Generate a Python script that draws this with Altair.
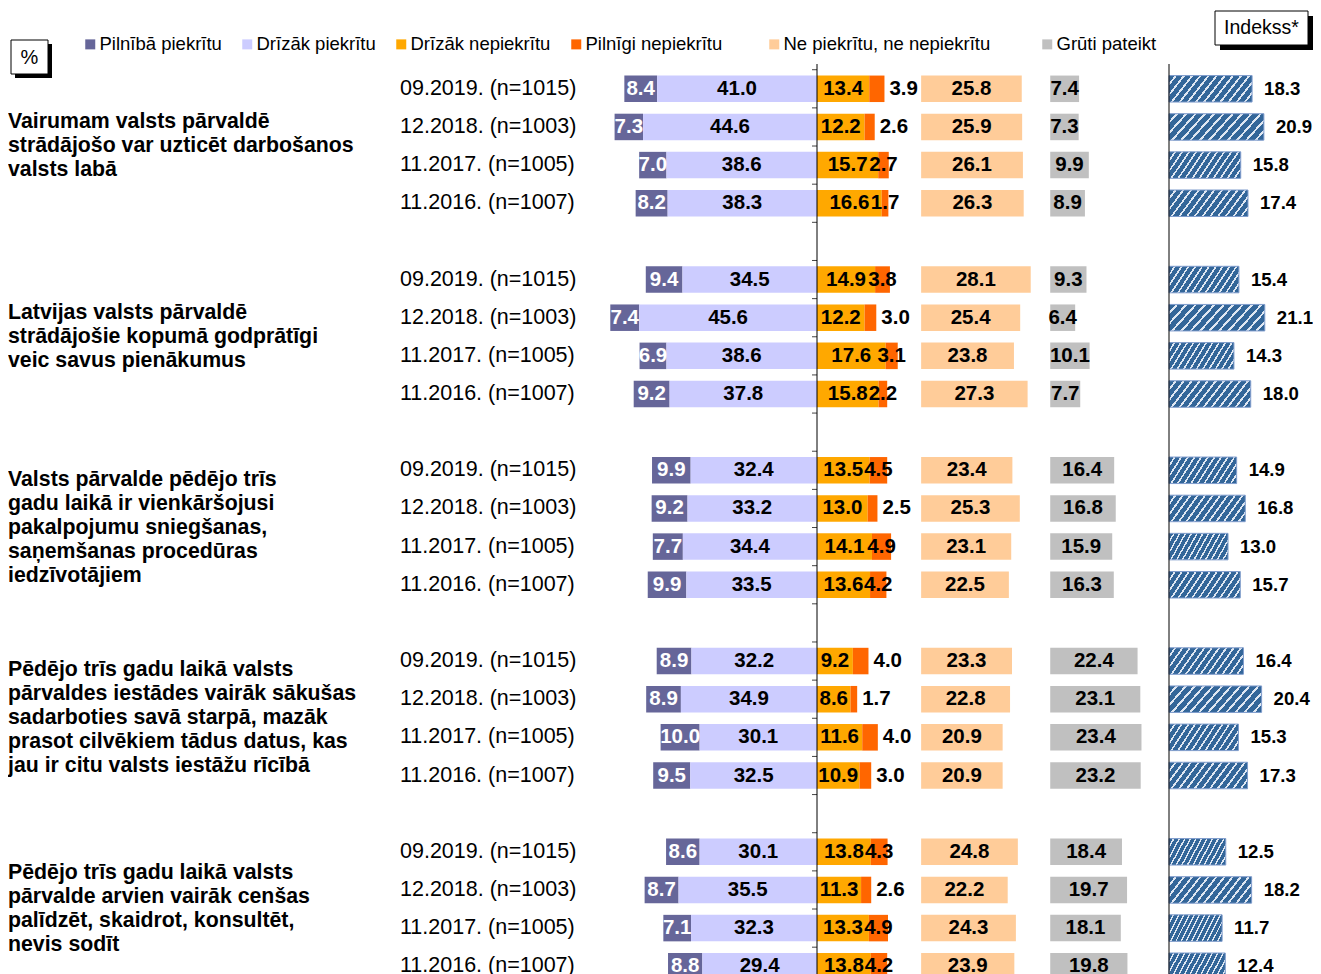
import altair as alt
import pandas as pd
import numpy as np

FONT = "Liberation Sans"

# ---------------- data ----------------
WAVES = ["09.2019. (n=1015)", "12.2018. (n=1003)", "11.2017. (n=1005)", "11.2016. (n=1007)"]

STATEMENTS = [
    ["Vairumam valsts pārvaldē", "strādājošo var uzticēt darbošanos", "valsts labā"],
    ["Latvijas valsts pārvaldē", "strādājošie kopumā godprātīgi", "veic savus pienākumus"],
    ["Valsts pārvalde pēdējo trīs", "gadu laikā ir vienkāršojusi", "pakalpojumu sniegšanas,",
     "saņemšanas procedūras", "iedzīvotājiem"],
    ["Pēdējo trīs gadu laikā valsts", "pārvaldes iestādes vairāk sākušas", "sadarboties savā starpā, mazāk",
     "prasot cilvēkiem tādus datus, kas", "jau ir citu valsts iestāžu rīcībā"],
    ["Pēdējo trīs gadu laikā valsts", "pārvalde arvien vairāk cenšas", "palīdzēt, skaidrot, konsultēt,",
     "nevis sodīt"],
]

SERIES = ["Pilnībā piekrītu", "Drīzāk piekrītu", "Drīzāk nepiekrītu", "Pilnīgi nepiekrītu",
          "Ne piekrītu, ne nepiekrītu", "Grūti pateikt"]
COLORS = ["#666699", "#ccccff", "#ffa800", "#ff6600", "#ffcc99", "#c0c0c0"]

FULLY_AGREE = [[8.4, 7.3, 7.0, 8.2], [9.4, 7.4, 6.9, 9.2], [9.9, 9.2, 7.7, 9.9],
               [8.9, 8.9, 10.0, 9.5], [8.6, 8.7, 7.1, 8.8]]
RATHER_AGREE = [[41.0, 44.6, 38.6, 38.3], [34.5, 45.6, 38.6, 37.8], [32.4, 33.2, 34.4, 33.5],
                [32.2, 34.9, 30.1, 32.5], [30.1, 35.5, 32.3, 29.4]]
RATHER_DISAGREE = [[13.4, 12.2, 15.7, 16.6], [14.9, 12.2, 17.6, 15.8], [13.5, 13.0, 14.1, 13.6],
                   [9.2, 8.6, 11.6, 10.9], [13.8, 11.3, 13.3, 13.8]]
FULLY_DISAGREE = [[3.9, 2.6, 2.7, 1.7], [3.8, 3.0, 3.1, 2.2], [4.5, 2.5, 4.9, 4.2],
                  [4.0, 1.7, 4.0, 3.0], [4.3, 2.6, 4.9, 4.2]]
NEUTRAL = [[25.8, 25.9, 26.1, 26.3], [28.1, 25.4, 23.8, 27.3], [23.4, 25.3, 23.1, 22.5],
           [23.3, 22.8, 20.9, 20.9], [24.8, 22.2, 24.3, 23.9]]
HARD_TO_SAY = [[7.4, 7.3, 9.9, 8.9], [9.3, 6.4, 10.1, 7.7], [16.4, 16.8, 15.9, 16.3],
               [22.4, 23.1, 23.4, 23.2], [18.4, 19.7, 18.1, 19.8]]
INDEX = [[18.3, 20.9, 15.8, 17.4], [15.4, 21.1, 14.3, 18.0], [14.9, 16.8, 13.0, 15.7],
         [16.4, 20.4, 15.3, 17.3], [12.5, 18.2, 11.7, 12.4]]

# ---------------- layout ----------------
W, H = 1305, 1000
PX = 3.9            # px per percentage point (main block)
CENTER_X = 809      # position of the 0 line
IPX = 4.54          # px per index point
ICENTER = 1161      # position of index axis
Y0, STEP = 80.8, 38.15
BAR_H = 26.5
LINE_H = 24
ROWS_PER_GROUP = 5
NEUTRAL_START = 26.7
DK_START = 59.8
OUTSIDE_LIMIT = 17.5

XMIN, XMAX = -CENTER_X / PX, (W - CENTER_X) / PX
IMIN, IMAX = -ICENTER / IPX, (W - ICENTER) / IPX
RMIN, RMAX = -Y0 / STEP, (H - Y0) / STEP
HALF = BAR_H / 2 / STEP
LINE_TOP = -0.65
LINE_BOT = RMAX

XS = alt.Scale(domain=[XMIN, XMAX], nice=False, zero=False)
XI = alt.Scale(domain=[IMIN, IMAX], nice=False, zero=False)
YS = alt.Scale(domain=[RMIN, RMAX], nice=False, zero=False, reverse=True)

# ---------------- tables ----------------
segs, rows, idx = [], [], []
for g in range(len(STATEMENTS)):
    for i, wave in enumerate(WAVES):
        r = g * ROWS_PER_GROUP + i
        a1, a2 = FULLY_AGREE[g][i], RATHER_AGREE[g][i]
        d1, d2 = RATHER_DISAGREE[g][i], FULLY_DISAGREE[g][i]
        n, h = NEUTRAL[g][i], HARD_TO_SAY[g][i]
        parts = [
            (SERIES[0], -(a1 + a2), -a2, a1),
            (SERIES[1], -a2, 0.0, a2),
            (SERIES[2], 0.0, d1, d1),
            (SERIES[3], d1, d1 + d2, d2),
            (SERIES[4], NEUTRAL_START, NEUTRAL_START + n, n),
            (SERIES[5], DK_START, DK_START + h, h),
        ]
        for s, x0, x1, v in parts:
            segs.append({"series": s, "x0": x0, "x1": x1, "mid": (x0 + x1) / 2, "r": r,
                         "label": f"{v:.1f}"})
        rows.append({"r": r, "wave": wave})
        idx.append({"r": r, "idx": INDEX[g][i], "zero": 0.0, "label": f"{INDEX[g][i]:.1f}"})

seg_df = pd.DataFrame(segs)
row_df = pd.DataFrame(rows)
idx_df = pd.DataFrame(idx)
grp_df = pd.DataFrame({
    "r": [g * ROWS_PER_GROUP + 1.5 for g in range(len(STATEMENTS))],
    "n": [len(s) for s in STATEMENTS],
    "text": ["\n".join(s) for s in STATEMENTS],
})
tick_df = pd.DataFrame({"b": np.arange(-0.5, RMAX, 1.0)})
tick_df["x0"] = -5 / PX
tick_df["x1"] = 0.0
line_df = pd.DataFrame({"x": [0.0], "y1": [LINE_TOP], "y2": [LINE_BOT]})

# ---------------- legends ----------------
def make_legend(x, pad):
    return alt.Legend(
        orient="none", legendX=x, legendY=27, direction="horizontal", columns=4,
        title=None, symbolType="square", symbolSize=100, symbolStrokeWidth=0,
        labelFont=FONT, labelFontSize=18.5, labelColor="black", labelOffset=0,
        columnPadding=pad, labelLimit=500, padding=0,
    )

# ---------------- main block ----------------
base = alt.Chart(seg_df).transform_calculate(
    yt=f"datum.r - {HALF}", yb=f"datum.r + {HALF}"
)
AGREE_SIDE = SERIES[:4]
OTHER_SIDE = SERIES[4:]

bars_a = base.transform_filter(alt.FieldOneOfPredicate(field="series", oneOf=AGREE_SIDE)).mark_bar().encode(
    x=alt.X("x0:Q", scale=XS, axis=None),
    x2="x1:Q",
    y=alt.Y("yt:Q", scale=YS, axis=None),
    y2="yb:Q",
    color=alt.Color("series:N", scale=alt.Scale(domain=AGREE_SIDE, range=COLORS[:4]),
                    legend=make_legend(73, 16)),
)
bars_b = base.transform_filter(alt.FieldOneOfPredicate(field="series", oneOf=OTHER_SIDE)).mark_bar().encode(
    x=alt.X("x0:Q", scale=XS, axis=None),
    x2="x1:Q",
    y=alt.Y("yt:Q", scale=YS, axis=None),
    y2="yb:Q",
    fill=alt.Fill("series:N", scale=alt.Scale(domain=OTHER_SIDE, range=COLORS[4:]),
                  legend=make_legend(757, 47)),
)

txt_color = alt.when(alt.datum.series == SERIES[0]).then(alt.value("white")).otherwise(alt.value("black"))

labels_center = alt.Chart(seg_df).transform_filter(
    f"datum.series != '{SERIES[3]}' || datum.x1 >= {OUTSIDE_LIMIT}"
).mark_text(font=FONT, fontSize=20.5, fontWeight="bold", baseline="middle", align="center").encode(
    x=alt.X("mid:Q", scale=XS, axis=None),
    y=alt.Y("r:Q", scale=YS, axis=None),
    text="label:N",
    color=txt_color,
)

labels_outside = alt.Chart(seg_df).transform_filter(
    f"datum.series == '{SERIES[3]}' && datum.x1 < {OUTSIDE_LIMIT}"
).mark_text(font=FONT, fontSize=20.5, fontWeight="bold", baseline="middle", align="left",
            dx=5, color="black").encode(
    x=alt.X("x1:Q", scale=XS, axis=None),
    y=alt.Y("r:Q", scale=YS, axis=None),
    text="label:N",
)

center_line = alt.Chart(line_df).mark_rule(color="black", strokeWidth=1).encode(
    x=alt.X("x:Q", scale=XS, axis=None),
    y=alt.Y("y1:Q", scale=YS, axis=None),
    y2="y2:Q",
)

ticks = alt.Chart(tick_df).mark_rule(color="#444444", strokeWidth=1).encode(
    x=alt.X("x0:Q", scale=XS, axis=None),
    x2="x1:Q",
    y=alt.Y("b:Q", scale=YS, axis=None),
)

row_labels = alt.Chart(row_df).mark_text(
    font=FONT, fontSize=21.5, align="left", baseline="middle", color="black"
).encode(
    x=alt.value(392),
    y=alt.Y("r:Q", scale=YS, axis=None),
    text="wave:N",
)

group_labels = alt.Chart(grp_df).transform_calculate(
    ytop=f"datum.r - (datum.n - 1) * {LINE_H / 2 / STEP}"
).mark_text(
    font=FONT, fontSize=21.3, fontWeight="bold", align="left", baseline="middle",
    lineBreak="\n", lineHeight=LINE_H, color="black"
).encode(
    x=alt.value(0),
    y=alt.Y("ytop:Q", scale=YS, axis=None),
    text="text:N",
)

main = alt.layer(bars_a, bars_b, labels_center, labels_outside, ticks, center_line, row_labels, group_labels)

# ---------------- index block ----------------
BLUE, STRIPE = "#336699", "#dfe7f2"
N_STRIPES = 13
stops = []
for k in range(N_STRIPES):
    p = k / N_STRIPES
    q = (k + 0.72) / N_STRIPES
    e = min((k + 1) / N_STRIPES, 1.0)
    stops += [alt.GradientStop(offset=p, color=BLUE), alt.GradientStop(offset=q, color=BLUE),
              alt.GradientStop(offset=q, color=STRIPE), alt.GradientStop(offset=e, color=STRIPE)]
hatch = alt.LinearGradient(gradient="linear", stops=stops, x1=0, y1=0, x2=1.2, y2=0.3)

ibase = alt.Chart(idx_df).transform_calculate(
    yt=f"datum.r - {HALF}", yb=f"datum.r + {HALF}"
)
ibars = ibase.mark_bar(fill=hatch, stroke="#7f9ccc", strokeWidth=1).encode(
    x=alt.X("zero:Q", scale=XI, axis=None),
    x2="idx:Q",
    y=alt.Y("yt:Q", scale=YS, axis=None),
    y2="yb:Q",
)
ilabels = alt.Chart(idx_df).mark_text(
    font=FONT, fontSize=18.6, fontWeight="bold", align="left", baseline="middle", dx=12, color="black"
).encode(
    x=alt.X("idx:Q", scale=XI, axis=None),
    y=alt.Y("r:Q", scale=YS, axis=None),
    text="label:N",
)
iline = alt.Chart(line_df).mark_rule(color="black", strokeWidth=1).encode(
    x=alt.X("x:Q", scale=XI, axis=None),
    y=alt.Y("y1:Q", scale=YS, axis=None),
    y2="y2:Q",
)
index_block = alt.layer(ibars, ilabels, iline)

# ---------------- boxed captions ----------------
box_df = pd.DataFrame({"t": ["%"]})
pct_shadow = alt.Chart(box_df).mark_rect(color="black").encode(
    x=alt.value(7), x2=alt.value(44), y=alt.value(36), y2=alt.value(70))
pct_box = alt.Chart(box_df).mark_rect(fill="white", stroke="black", strokeWidth=1).encode(
    x=alt.value(3), x2=alt.value(40), y=alt.value(32), y2=alt.value(66))
pct_txt = alt.Chart(box_df).mark_text(font=FONT, fontSize=20, color="black", baseline="middle").encode(
    x=alt.value(21.5), y=alt.value(50), text="t:N")

ind_df = pd.DataFrame({"t": ["Indekss*"]})
ind_shadow = alt.Chart(ind_df).mark_rect(color="black").encode(
    x=alt.value(1212), x2=alt.value(1305), y=alt.value(8), y2=alt.value(42))
ind_box = alt.Chart(ind_df).mark_rect(fill="white", stroke="black", strokeWidth=1).encode(
    x=alt.value(1207), x2=alt.value(1300), y=alt.value(3), y2=alt.value(37))
ind_txt = alt.Chart(ind_df).mark_text(font=FONT, fontSize=19.5, color="black", baseline="middle").encode(
    x=alt.value(1253.5), y=alt.value(20), text="t:N")

captions = alt.layer(pct_shadow, pct_box, pct_txt, ind_shadow, ind_box, ind_txt)

chart = alt.layer(main, index_block, captions).resolve_scale(x="independent").properties(
    width=W, height=H, padding=0, autosize=alt.AutoSizeParams(type="none")
).configure_view(strokeWidth=0)

chart.save("out.html", embed_options={"renderer": "svg", "actions": False})
